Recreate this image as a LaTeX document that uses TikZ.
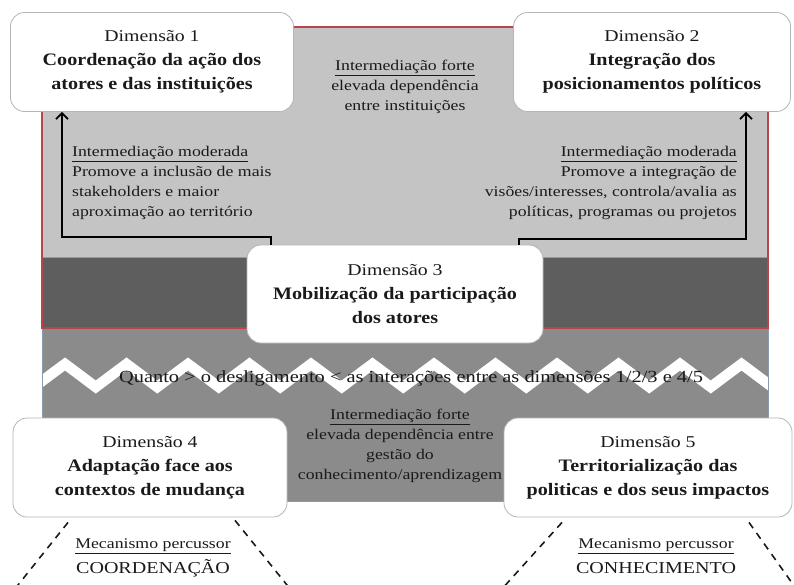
\documentclass[tikz,border=0pt]{standalone}
\usepackage{fontspec}
\setmainfont{Liberation Serif}[FakeStretch=1.2]
\newfontfamily\boldfam{Liberation Serif}[FakeStretch=1.15]
\usetikzlibrary{arrows.meta,calc}
\definecolor{lgray}{HTML}{C4C4C4}
\definecolor{mgray}{HTML}{8B8B8B}
\definecolor{dgray}{HTML}{5E5E5E}
\definecolor{redline}{HTML}{B8444C}
\definecolor{blueline}{HTML}{8A9BB0}
\definecolor{nodeborder}{HTML}{B5B5B5}
\definecolor{txt}{HTML}{1A1A1A}
\newcommand\dimfont{\fontsize{16.5}{24}\selectfont}
\newcommand\boldfont{\boldfam\fontsize{17.5}{24}\selectfont\bfseries}
\newcommand\labfont{\fontsize{14.8}{20}\selectfont}
\tikzset{
  dimbox/.style={draw=nodeborder, fill=white, rounded corners=14pt, line width=0.8pt,
    align=center, inner sep=0pt, text=txt, font=\dimfont},
  lab/.style={text=txt, font=\labfont, inner sep=0pt},
  arr/.style={draw=black, line width=1.8pt, -{Straight Barb[length=6pt,width=12pt]}},
  dashline/.style={draw=txt, line width=1.6pt, dash pattern=on 7pt off 6pt}
}
\begin{document}
\begin{tikzpicture}[x=1pt,y=-1pt]
\useasboundingbox (0,0) rectangle (794,584);
% frame regions
\fill[lgray] (42,27) rectangle (768,328);
\fill[mgray] (42,257) rectangle (768,501);
\fill[dgray] (42,257) rectangle (768,328);
\begin{scope}
  \clip (42,257) rectangle (768,501);
  \draw[white, line width=10.5pt, line join=miter] (30,390)
    foreach \k in {0,...,11} { -- ({65+61.5*\k},364) -- ({95.75+61.5*\k},387) };
\end{scope}
\draw[blueline, line width=0.9pt] (42,257) rectangle (768,501);
\draw[redline, line width=1.4pt] (42,27) rectangle (768,328);

% texts in gray areas
\node[lab, align=center] (tfort) at (405,87) {\fontsize{14.8}{18.5}\selectfont\underline{Intermediação forte}\\elevada dependência\\entre instituições};
\node[lab, align=left, anchor=west] (tleft) at (72,183) {\underline{Intermediação moderada}\\Promove a inclusão de mais\\stakeholders e maior\\aproximação ao território};
\node[lab, align=right, anchor=east] (tright) at (737,183) {\underline{Intermediação moderada}\\Promove a integração de\\visões/interesses, controla/avalia as\\políticas, programas ou projetos};
\node[lab, align=center] (bfort) at (400,446) {\fontsize{14.8}{20.5}\selectfont\underline{Intermediação forte}\\elevada dependência entre\\gestão do\\conhecimento/aprendizagem};
\node[text=txt, inner sep=0pt, font=\fontsize{17}{20}\selectfont] (quanto) at (411,378) {Quanto > o desligamento < as interações entre as dimensões 1/2/3 e 4/5};

% dimension nodes
\node[dimbox, minimum width=283pt, minimum height=99pt] (n1) at (152,62)
  {Dimensão 1\\{\boldfont Coordenação da ação dos}\\{\boldfont atores e das instituições}};
\node[dimbox, minimum width=277pt, minimum height=99pt] (n2) at (652,62)
  {Dimensão 2\\{\boldfont Integração dos}\\{\boldfont posicionamentos políticos}};
\node[dimbox, minimum width=296pt, minimum height=98pt] (n3) at (395,294)
  {Dimensão 3\\{\boldfont Mobilização da participação}\\{\boldfont dos atores}};
\node[dimbox, minimum width=274pt, minimum height=99pt] (n4) at (150,467.5)
  {Dimensão 4\\{\boldfont Adaptação face aos}\\{\boldfont contextos de mudança}};
\node[dimbox, minimum width=288pt, minimum height=99pt] (n5) at (648,467.5)
  {Dimensão 5\\{\boldfont Territorialização das}\\{\boldfont politicas e dos seus impactos}};

% arrows
\coordinate (la) at (271,237);
\coordinate (lb) at (62,237);
\coordinate (ra) at (519,239);
\coordinate (rb) at (746,239);
\draw[arr] (la |- n3.north) -- (la) -- (lb) -- (lb |- n1.south);
\draw[arr] (ra |- n3.north) -- (ra) -- (rb) -- (rb |- n2.south);

% bottom mechanisms
\node[lab] (mec1) at (153,546) {\underline{Mecanismo percussor}};
\node[text=txt, inner sep=0pt, font=\fontsize{16.7}{20}\selectfont] (coord) at (153,568) {COORDENAÇÃO};
\node[lab] (mec2) at (656,546) {\underline{Mecanismo percussor}};
\node[text=txt, inner sep=0pt, font=\fontsize{16.7}{20}\selectfont] (conh) at (656,568) {CONHECIMENTO};

\begin{scope}
  \clip (0,0) rectangle (794,584);
  \coordinate (d1) at (14,590);
  \coordinate (d2) at (291,590);
  \coordinate (d3) at (501,590);
  \coordinate (d4) at (797,590);
  \draw[dashline] ($(n4.south)+(-82,5)$) -- (d1);
  \draw[dashline] ($(n4.south)+(85,3)$) -- (d2);
  \draw[dashline] ($(n5.south)+(-86,5)$) -- (d3);
  \draw[dashline] ($(n5.south)+(101,5)$) -- (d4);
\end{scope}
\end{tikzpicture}
\end{document}
